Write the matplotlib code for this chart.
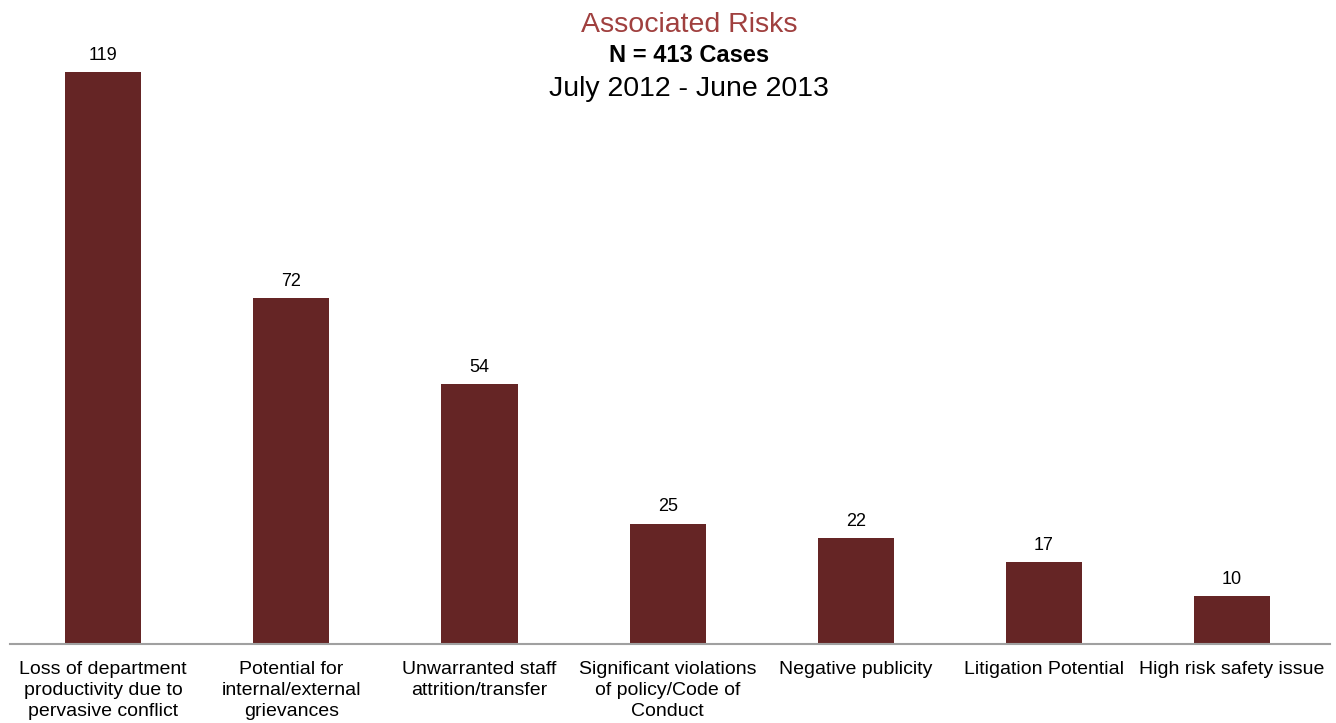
# Associated Risks bar chart

import numpy as np
from matplotlib import pyplot as plt

plt.rcParams['font.family'] = ['Liberation Sans', 'DejaVu Sans']

categories = ['Loss of department\nproductivity due to\npervasive conflict',
              'Potential for\ninternal/external\ngrievances',
              'Unwarranted staff\nattrition/transfer',
              'Significant violations\nof policy/Code of\nConduct',
              'Negative publicity',
              'Litigation Potential',
              'High risk safety issue']
counts = [119, 72, 54, 25, 22, 17, 10]

bar_color = '#652525'
title_color = '#A0403F'

fig = plt.figure(figsize=(13.36, 7.23), dpi=100)
ax = fig.add_axes([0.0075, 0.1093, 0.988, 0.8907])

x = np.arange(len(categories))
bars = ax.bar(x, counts, width=0.405, color=bar_color)
for xi, c in zip(x, counts):
    ax.annotate(str(c), (xi, c), xytext=(0, 6), textcoords='offset points',
                ha='center', va='bottom', fontsize=13)

ax.set_xlim(-0.495, 6.52)
ax.set_ylim(0, 134)
ax.set_xticks(x)
ax.set_xticklabels(categories, fontsize=14, linespacing=1.32, va='top')
ax.tick_params(axis='x', length=0, pad=12)
ax.set_yticks([])
for s in ['top', 'right', 'left']:
    ax.spines[s].set_visible(False)
ax.spines['bottom'].set_color('#a0a0a0')
ax.spines['bottom'].set_linewidth(1.5)

fig.text(0.516, 1 - 25/723, 'Associated Risks', ha='center', va='center',
         fontsize=20.5, color=title_color)
fig.text(0.516, 1 - 56/723, 'N = 413 Cases', ha='center', va='center',
         fontsize=17, fontweight='bold')
fig.text(0.516, 1 - 89/723, 'July 2012 - June 2013', ha='center', va='center',
         fontsize=20.5)

plt.savefig('out.png', dpi=100)
